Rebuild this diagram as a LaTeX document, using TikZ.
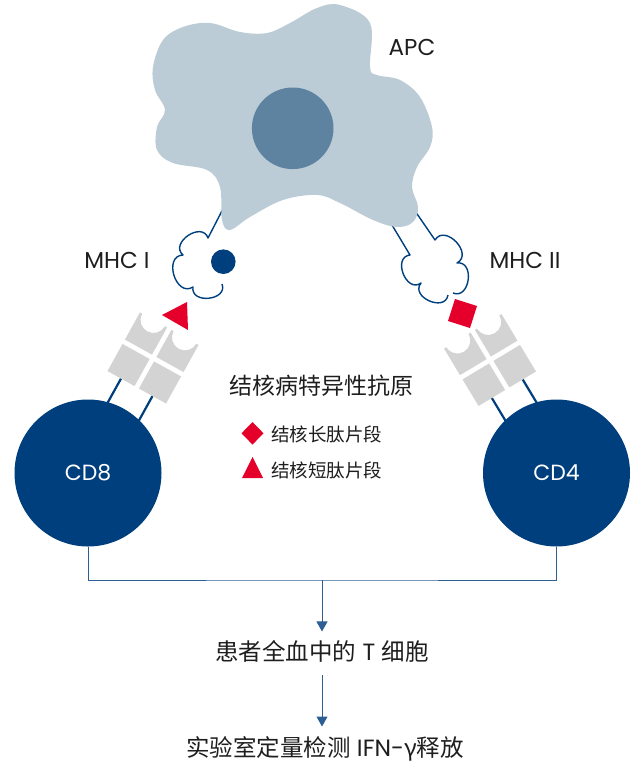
\documentclass[tikz,border=0pt]{standalone}
\usepackage{fontspec}
\usepackage{xcolor}
\usepackage{tikz}
\usetikzlibrary{arrows.meta}
\setmainfont{Poppins}
\newfontfamily\cjk{Noto Sans CJK SC}
\definecolor{apcfill}{HTML}{BCCCD7}
\definecolor{nucleus}{HTML}{5D83A1}
\definecolor{navy}{HTML}{003F7D}
\definecolor{pepred}{HTML}{E4002B}
\definecolor{tcrgray}{HTML}{D3D3D3}
\definecolor{flowblue}{HTML}{2E5F94}
\definecolor{inkdark}{HTML}{1E1E1E}
\tikzset{
  lbl/.style={text=inkdark,font=\fontsize{23}{26}\selectfont,inner sep=0pt},
  cjklbl/.style={text=inkdark,font=\cjk\fontsize{23}{26}\selectfont,inner sep=0pt},
  legendtxt/.style={text=inkdark,font=\cjk\fontsize{18.5}{22}\selectfont,inner sep=0pt,anchor=west},
  flowtxt/.style={text=inkdark,font=\fontsize{23.5}{26}\selectfont,anchor=base},
  tcell/.style={circle,fill=navy,minimum size=147pt,inner sep=0pt,text=white,
                font=\fontsize{22}{24}\selectfont},
  mhcline/.style={draw=navy,line width=1.4pt,line join=round},
  lobe/.style={bend right=105,looseness=1.55},
  tstalk/.style={draw=navy,line width=2.2pt},
  peptide/.style={fill=pepred},
  flowline/.style={draw=flowblue,line width=1pt},
  flowarr/.style={flowline,-{Triangle[width=11pt,length=10pt]}}
}

\begin{document}
\begin{tikzpicture}[x=1pt,y=1pt]
  \path[use as bounding box] (0,0) rectangle (632,-765);
  % T-cell receptor: two chains, grooved tips up, stalks down
  \def\receptor#1#2{%
    \begin{scope}[shift={#1},rotate=#2]
      \foreach \c in {-18,18}{
        \draw[tstalk] (\c,-33.5) -- (\c,-64);
        \fill[tcrgray] (\c-15.5,-33.5) rectangle (\c+15.5,-2.5);
        \fill[tcrgray] (\c-15.5,2.5) -- (\c+15.5,2.5) -- (\c+15.5,33.5) -- (\c+13,33.5)
          arc[start angle=0,end angle=-180,radius=13] -- (\c-15.5,33.5) -- cycle;
      }
    \end{scope}}

  % MHC I (one stalk, open groove on the right)
  \draw[mhcline] (225,-205) -- (208,-238) to[lobe] (183,-255) to[lobe] (193,-287) to[lobe] (222,-284);
  % MHC II (two stalks)
  \draw[mhcline] (386,-215) -- (410,-255) to[lobe] (421,-283) to[lobe] (448,-295);
  \draw[mhcline] (453,-293) to[lobe] (457,-263) to[lobe] (435,-240) -- (413,-208);

  % APC
  \fill[apcfill] plot[smooth cycle,tension=0.6] coordinates {
    (340,-5) (370,-23) (370,-67) (377,-75) (400,-80) (420,-97) (432,-127) (430,-147)
    (417,-167) (412,-187) (418,-207) (413,-222) (397,-227) (373,-220) (340,-203)
    (317,-195) (283,-200) (250,-217) (230,-230) (222,-220) (220,-187) (207,-170)
    (173,-163) (157,-150) (157,-127) (165,-110) (155,-90) (153,-67) (163,-40)
    (183,-27) (210,-23) (240,-32) (267,-33) (290,-23) (317,-8)};
  \node[circle,fill=nucleus,minimum size=81.6pt,inner sep=0pt] (nuc) at (292.7,-128.3) {};
  \node[lbl] (apc) at (412,-47) {APC};

  \receptor{(153,-358)}{-29}
  \receptor{(490,-360)}{31}

  \node[tcell] (cd8) at (88,-473) {CD8};
  \node[tcell] (cd4) at (556.5,-473) {CD4};

  % peptides
  \fill[navy] (223.3,-261.7) circle (12.3);
  \fill[peptide] (162,-315) -- (187,-302) -- (188,-330) -- cycle;
  \fill[peptide] (455,-299) -- (477,-306) -- (470,-328) -- (448,-321) -- cycle;

  \node[lbl] (mhc1) at (117,-260) {MHC I};
  \node[lbl] (mhc2) at (525,-260) {MHC II};

  % legend
  \node[cjklbl] (antigen) at (321,-386) {结核病特异性抗原};
  \fill[peptide] (252.5,-422) -- (263.5,-433.3) -- (252.5,-444.6) -- (241.5,-433.3) -- cycle;
  \fill[peptide] (242,-478) -- (263,-478) -- (252.5,-457) -- cycle;
  \node[legendtxt] (longpep) at (271,-434) {结核长肽片段};
  \node[legendtxt] (shortpep) at (271,-470) {结核短肽片段};

  % read-out
  \coordinate (join) at (322,-580);
  \node[flowtxt] (tcells) at (322,-660) {{\cjk 患者全血中的} T {\cjk 细胞}};
  \node[flowtxt] (ifn) at (325,-756) {{\cjk 实验室定量检测} IFN-{\cjk γ释放}};
  \draw[flowline] (cd8.south) |- (join) -| (cd4.south);
  \draw[flowarr,shorten >=5pt] (join) -- (join |- tcells.north);
  \draw[flowarr,shorten <=10pt,shorten >=6pt] (join |- tcells.south) -- (join |- ifn.north);
\end{tikzpicture}
\end{document}
